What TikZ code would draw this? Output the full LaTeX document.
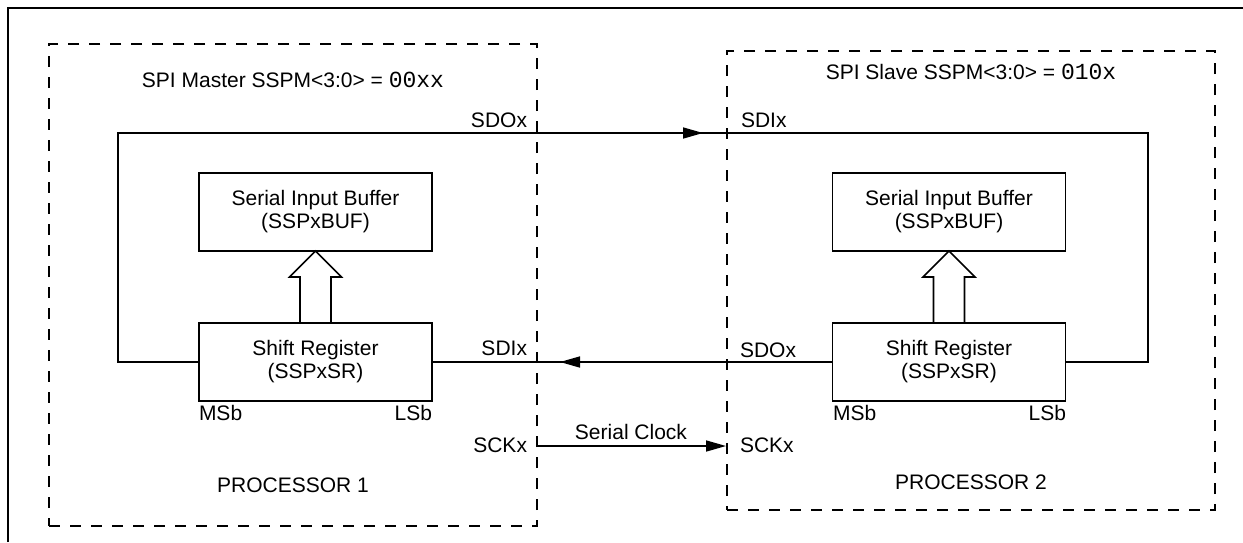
\documentclass[tikz,border=0pt]{standalone}
\usepackage{fontspec}
\setmainfont{Liberation Sans}
\newfontfamily\monof{Liberation Mono}
\usetikzlibrary{arrows.meta,calc}
\begin{document}
\begin{tikzpicture}[x=1pt,y=-1pt,
  wire/.style={line width=1.6pt},
  frameline/.style={line width=2pt},
  procbox/.style={draw, line width=1.8pt, dash pattern=on 11pt off 10pt, inner sep=0pt, outer sep=0pt},
  regbox/.style={draw, line width=1.6pt, minimum width=233pt, minimum height=78pt, align=center, inner sep=0pt, outer sep=0pt, font=\fontsize{21}{23}\selectfont},
  tip/.style={-{Triangle[length=20pt,width=11pt]}},
  lbl/.style={font=\fontsize{21}{23}\selectfont, inner sep=0pt, outer sep=0pt},
  ]
\useasboundingbox (0,0) rectangle (1243,542);
% outer frame
\draw[frameline] (8,542) -- (8,8) -- (1243,8);
% processor boxes
\node[procbox, minimum width=488pt, minimum height=482pt] (p1) at (293,285) {};
\node[procbox, minimum width=488pt, minimum height=459pt] (p2) at (971,280.5) {};
% titles
\node[lbl, anchor=base] (t1) at (293,87) {SPI Master SSPM<3:0> = {\monof\fontsize{23}{23}\selectfont 00xx}};
\node[lbl, anchor=base] (t2) at (971,79) {SPI Slave SSPM<3:0> = {\monof\fontsize{23}{23}\selectfont 010x}};
% registers
\node[regbox] (buf1) at (315.5,212) {Serial Input Buffer\\(SSPxBUF)};
\node[regbox] (sr1) at (315.5,362) {Shift Register\\(SSPxSR)};
\node[regbox] (buf2) at (949,212) {Serial Input Buffer\\(SSPxBUF)};
\node[regbox] (sr2) at (949,362) {Shift Register\\(SSPxSR)};
% hollow arrows
\foreach \s/\b in {sr1/buf1, sr2/buf2}{
  \draw[wire, line join=miter] ([xshift=-15.5pt]\s.north) -- ++(0,-46) -- ++(-10.5,0)
    -- (\b.south) -- ++(26,26) -- ++(-10.5,0) -- ([xshift=15.5pt]\s.north);
}
% SDO -> SDI loop
\coordinate (tl) at (118,133);
\coordinate (tr) at (1148,133);
\coordinate (mt) at (703,133);
\draw[wire] (sr1.west) -| (tl) -- (tr) |- (sr2.east);
\draw[wire, tip] (tl) -- (mt);
% SDO slave -> SDI master
\coordinate (mb) at (560,362);
\draw[wire] (sr2.west) -- (sr1.east);
\draw[wire, tip] (sr2.west) -- (mb);
% clock
\coordinate (ck1) at (537,446);
\coordinate (ck2) at (726,446);
\draw[wire, tip] (ck1) -- (ck2);
% labels
\node[lbl, anchor=base east] (l1) at (527,127) {SDOx};
\node[lbl, anchor=base west] (l2) at (741,127) {SDIx};
\node[lbl, anchor=base east] (l3) at (527,355) {SDIx};
\node[lbl, anchor=base west] (l4) at (740,357) {SDOx};
\node[lbl, anchor=base west] (l5) at (199,420) {MSb};
\node[lbl, anchor=base east] (l6) at (432,420) {LSb};
\node[lbl, anchor=base west] (l7) at (833,420) {MSb};
\node[lbl, anchor=base east] (l8) at (1066,420) {LSb};
\node[lbl, anchor=base] (l9) at (631,439) {Serial Clock};
\node[lbl, anchor=base east] (l10) at (527,452) {SCKx};
\node[lbl, anchor=base west] (l11) at (740,452) {SCKx};
\node[lbl, anchor=base] (l12) at (293,492) {PROCESSOR 1};
\node[lbl, anchor=base] (l13) at (971,489) {PROCESSOR 2};
\end{tikzpicture}
\end{document}
